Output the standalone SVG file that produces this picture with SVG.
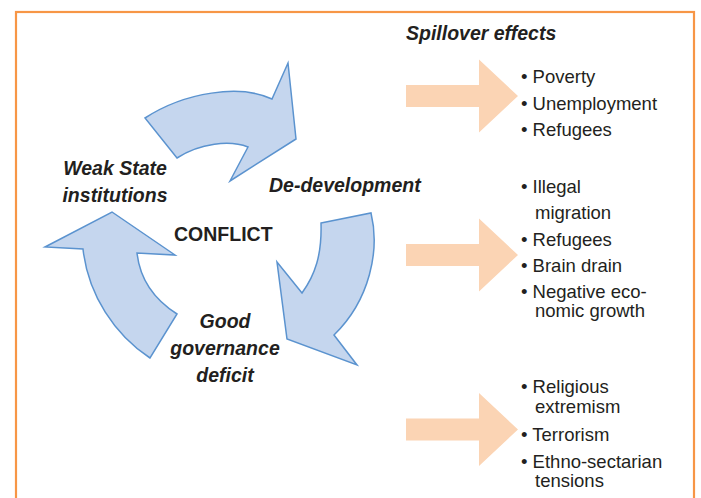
<svg xmlns="http://www.w3.org/2000/svg" width="701" height="498" viewBox="0 0 701 498">
<style>
.frame{fill:none;stroke:#F79646;stroke-width:2.2}
.cyc{fill:#C5D6EE;stroke:#5B93CF;stroke-width:1.5;stroke-linejoin:miter}
.spill{fill:#FBD4B4;stroke:none}
.lbl{font-family:"Liberation Sans",Arial,sans-serif;font-weight:bold;font-style:italic;font-size:19.5px;fill:#231F20}
.core{font-family:"Liberation Sans",Arial,sans-serif;font-weight:bold;font-size:19.5px;fill:#231F20}
.item{font-family:"Liberation Sans",Arial,sans-serif;font-size:18.5px;fill:#231F20}
</style>
<defs>
<path id="orangeArrow" d="M0,-11 L73,-11 L73,-36.5 L112,0 L73,36.5 L73,11 L0,11 Z"/>
</defs>
<rect x="0" y="0" width="701" height="498" fill="#FFFFFF"/>
<rect class="frame" x="16" y="12" width="678" height="500"/>

<g id="connectors">
<path id="arrow-weak-to-dedev" class="cyc" d="M145,118 C185,92 240,84 272,99 L288,63 L296,139 L230,181 L248,147 C230,140 200,143 177,158 Z"/>
<path id="arrow-dedev-to-gov" class="cyc" d="M321,223 L371,213 C380,250 370,300 334,335 L357,365 L287,339 L277,262 L302,293 C315,275 322,255 321,223 Z"/>
<path id="arrow-gov-to-weak" class="cyc" d="M112,212 L175,255 L137,253 C140,280 155,300 177,314 L150,358 C115,335 88,295 83,249 L45,247 Z"/>
<use class="spill" href="#orangeArrow" x="406" y="96"/>
<use class="spill" href="#orangeArrow" x="406" y="255"/>
<use class="spill" href="#orangeArrow" x="406" y="429.5"/>
</g>

<g id="node-weak-state">
<text class="lbl" text-anchor="middle" x="115" y="175">Weak State</text>
<text class="lbl" text-anchor="middle" x="115" y="202">institutions</text>
</g>
<g id="node-de-development">
<text class="lbl" x="269" y="192">De-development</text>
</g>
<g id="node-good-governance">
<text class="lbl" text-anchor="middle" x="225" y="328">Good</text>
<text class="lbl" text-anchor="middle" x="225" y="355">governance</text>
<text class="lbl" text-anchor="middle" x="225" y="382">deficit</text>
</g>
<g id="node-conflict">
<text class="core" x="174" y="241">CONFLICT</text>
</g>
<g id="node-spillover-title">
<text class="lbl" x="406" y="40">Spillover effects</text>
</g>
<g id="node-spill-1">
<text class="item" x="521" y="83">• Poverty</text>
<text class="item" x="521" y="110">• Unemployment</text>
<text class="item" x="521" y="136">• Refugees</text>
</g>
<g id="node-spill-2">
<text class="item" x="521" y="193">• Illegal</text>
<text class="item" x="535" y="219">migration</text>
<text class="item" x="521" y="246">• Refugees</text>
<text class="item" x="521" y="272">• Brain drain</text>
<text class="item" x="521" y="298">• Negative eco-</text>
<text class="item" x="535" y="317">nomic growth</text>
</g>
<g id="node-spill-3">
<text class="item" x="521" y="393">• Religious</text>
<text class="item" x="535" y="413">extremism</text>
<text class="item" x="521" y="441">• Terrorism</text>
<text class="item" x="521" y="468">• Ethno-sectarian</text>
<text class="item" x="535" y="487">tensions</text>
</g>
</svg>
